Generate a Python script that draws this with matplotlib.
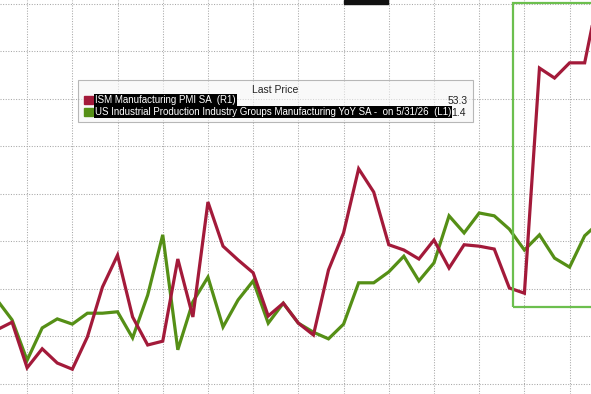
import numpy as np
import matplotlib.pyplot as plt
from matplotlib.patches import Rectangle

# monthly index, first point sits just off the left edge
months = np.arange(-1, 40)

# ISM Manufacturing PMI SA (right axis)
ism_pmi = [46.12, 46.28, 45.32, 45.72, 45.42, 45.29, 45.97, 47.02, 47.69, 46.39,
           45.80, 45.88, 47.61, 46.39, 48.81, 47.88, 47.59, 47.32, 46.41, 46.68,
           46.26, 46.01, 47.38, 48.16, 49.51, 49.02, 47.91, 47.80, 47.61, 48.01,
           47.42, 47.91, 47.88, 47.82, 47.00, 46.89, 51.63, 51.42, 51.74, 51.74,
           53.3]

# US industrial production, manufacturing YoY % (left axis)
ip_yoy = [-0.24, -0.66, -1.51, -0.83, -0.64, -0.75, -0.52, -0.52, -0.49, -1.04,
          -0.14, 1.13, -1.29, -0.28, 0.24, -0.81, -0.24, 0.16, -0.73, -0.31,
          -0.73, -0.92, -1.06, -0.75, 0.12, 0.12, 0.35, 0.68, 0.16, 0.54,
          1.53, 1.17, 1.59, 1.53, 1.25, 0.81, 1.13, 0.64, 0.45, 1.11,
          1.4]

legend_labels = ["ISM Manufacturing PMI SA  (R1)",
                 "US Industrial Production Industry Groups Manufacturing YoY SA -  on 5/31/26  (L1)"]
last_values = ["53.3", "1.4"]

red = "#a31a3a"
green = "#558f16"

W, H = 591, 394
fig = plt.figure(figsize=(W / 100, H / 100), dpi=100)
ax = fig.add_axes([0, 0, 1, 1])
ax2 = ax.twinx()

ax.set_xlim(-0.8, 38.42)
ax.set_ylim(-2.221, 6.074)
ax2.set_ylim(44.768, 53.063)

ax.set_xticks(np.arange(1, 39, 3))
ax.set_yticks(np.arange(-2, 7, 1))
ax.grid(True, color="#a8a8a8", linestyle=(0, (1, 1.5)), linewidth=0.75)
ax.tick_params(length=0, labelleft=False, labelbottom=False)
ax2.tick_params(length=0, labelright=False)
for a in (ax, ax2):
    for s in a.spines.values():
        s.set_visible(False)

ax.plot(months, ip_yoy, color=green, lw=2.3, solid_joinstyle="miter", zorder=3)
ax2.plot(months, ism_pmi, color=red, lw=2.3, solid_joinstyle="miter", zorder=3)


def px(x, y):
    return x / W, 1 - y / H


# highlight box on the right
x0, y0 = px(513, 307)
x1, y1 = px(600, 3)
fig.patches.append(Rectangle((x0, y0), x1 - x0, y1 - y0, transform=fig.transFigure,
                             fill=False, edgecolor="#6cbf4e", lw=1.6, zorder=5))

# black bar at the very top
bx0, by0 = px(344, 4)
bx1, by1 = px(388, 0)
fig.patches.append(Rectangle((bx0, by0), bx1 - bx0, by1 - by0, transform=fig.transFigure,
                             color="#111111", zorder=5))

# legend box
lx0, ly0 = px(78, 122)
lx1, ly1 = px(473, 80)
fig.patches.append(Rectangle((lx0, ly0), lx1 - lx0, ly1 - ly0, transform=fig.transFigure,
                             facecolor="#f6f6f6", alpha=0.6, edgecolor="#8a8a8a", lw=0.8,
                             zorder=6))

font = ["Liberation Sans Narrow", "Liberation Sans", "DejaVu Sans"]
fig.text(*px(275, 90), "Last Price", ha="center", va="center", fontsize=7.5,
         family=font, color="#222222", zorder=7)

for i, (lab, val, c) in enumerate(zip(legend_labels, last_values, [red, green])):
    yc = 100 + 12 * i
    sx0, sy0 = px(84, yc + 4)
    sx1, sy1 = px(93, yc - 4)
    fig.patches.append(Rectangle((sx0, sy0), sx1 - sx0, sy1 - sy0,
                                 transform=fig.transFigure, color=c, zorder=7))
    fig.text(*px(95, yc), lab, ha="left", va="center", fontsize=7, family=font,
             color="white", zorder=7,
             bbox=dict(facecolor="black", edgecolor="none", pad=0.6))
    fig.text(*px(468 - 2 * i, yc + 1), val, ha="right", va="center", fontsize=7.5,
             family=font, color="#222222", zorder=7)

fig.savefig("out.png", dpi=100)
